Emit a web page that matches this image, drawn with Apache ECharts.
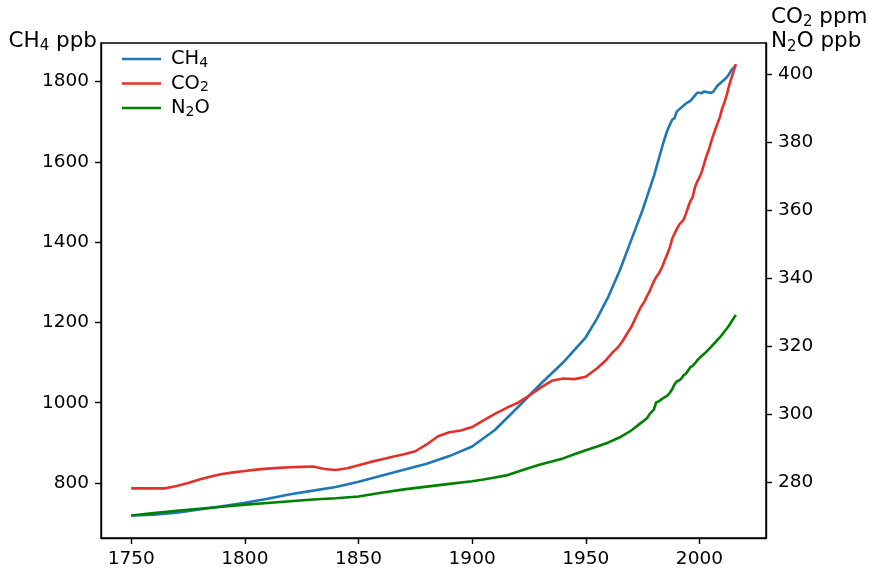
<!DOCTYPE html>
<html>
<head>
<meta charset="utf-8">
<script src="https://cdn.jsdelivr.net/npm/echarts@6/dist/echarts.min.js"></script>
<style>
html,body{margin:0;padding:0;background:#fff;}
#c{width:875px;height:573px;}
</style>
</head>
<body>
<div id="c"></div>
<script>
// ---- data ----
var ch4Years = [1750,1760,1770,1780,1790,1800,1810,1820,1830,1840,1850,1860,1870,1880,1890,1900,1910,1920,1930,1940,1950,1955,1960,1965,1970,1975,1980,1984,1986,1988,1989,1990,1992,1994,1996,1998,1999,2000,2001,2002,2003,2004,2005,2006,2007,2008,2009,2010,2011,2012,2013,2014,2015,2016];
var ch4Values = [719,721,726,734,742,751,761,772,781,790,803,818,833,848,867,891,932,988,1046,1100,1163,1210,1265,1330,1405,1480,1565,1645,1680,1705,1708,1725,1735,1745,1752,1765,1772,1772,1771,1775,1774,1773,1772,1774,1782,1790,1795,1800,1805,1810,1818,1828,1834,1840];

var co2Years = [1750,1755,1760,1765,1770,1775,1780,1785,1790,1795,1800,1805,1810,1815,1820,1825,1830,1835,1840,1845,1850,1855,1860,1865,1870,1875,1880,1885,1890,1895,1900,1905,1910,1915,1920,1925,1930,1935,1940,1945,1950,1955,1959,1960,1962,1964,1966,1968,1970,1972,1974,1976,1977,1978,1979,1980,1981,1982,1983,1984,1985,1986,1987,1988,1989,1990,1991,1992,1993,1994,1995,1996,1997,1998,1999,2000,2001,2002,2003,2004,2005,2006,2007,2008,2009,2010,2011,2012,2013,2014,2015,2016];
var co2Values = [278.3,278.3,278.3,278.3,279.0,279.9,280.9,281.8,282.5,283.0,283.4,283.8,284.1,284.3,284.5,284.6,284.7,284.0,283.7,284.2,285.1,286.0,286.8,287.6,288.3,289.2,291.2,293.6,294.8,295.3,296.3,298.3,300.2,301.9,303.4,305.5,307.8,309.9,310.6,310.4,311.1,313.6,316.0,316.9,318.4,319.6,321.4,323.6,325.7,328.5,331.3,333.4,334.9,336.1,337.7,339.2,340.4,341.3,342.5,344.0,345.8,347.4,349.2,351.6,353.1,354.4,355.7,356.5,357.2,358.9,360.9,362.7,363.8,366.7,368.4,369.7,371.3,373.5,375.8,377.5,379.8,381.9,383.8,385.6,387.4,389.9,391.7,393.9,396.5,398.7,400.8,403.0];

var n2oYears = [1750,1760,1770,1780,1790,1800,1810,1820,1830,1840,1850,1860,1870,1880,1890,1900,1905,1910,1915,1920,1925,1930,1935,1940,1945,1950,1955,1960,1965,1970,1975,1977,1978,1979,1980,1981,1982,1983,1984,1985,1986,1987,1988,1989,1990,1991,1992,1993,1994,1995,1996,1997,1998,1999,2000,2001,2002,2003,2004,2005,2006,2007,2008,2009,2010,2011,2012,2013,2014,2015,2016];
var n2oValues = [270.3,271.0,271.7,272.3,272.9,273.5,274.0,274.5,275.0,275.4,275.9,277.0,278.0,278.8,279.6,280.4,280.9,281.5,282.1,283.2,284.3,285.3,286.2,287.1,288.3,289.5,290.6,291.8,293.3,295.3,297.9,299.0,300.0,300.8,301.5,303.6,303.8,304.3,304.8,305.2,305.6,306.4,307.4,308.8,309.7,310.0,310.5,311.5,312.0,312.9,313.9,314.3,315.0,315.9,316.6,317.2,317.8,318.4,319.1,319.8,320.5,321.2,322.0,322.7,323.5,324.4,325.2,326.1,327.2,328.2,329.3];

var xTicks = [1750,1800,1850,1900,1950,2000];
var leftTicks = [800,1000,1200,1400,1600,1800];
var rightTicks = [280,300,320,340,360,380,400];
var seriesNames = ['CH4','CO2','N2O'];
var legendLabels = {'CH4':'{m|CH}{s|4}','CO2':'{m|CO}{s|2}','N2O':'{m|N}{s|2}{m|O}'};

function pairs(xs, ys){ return xs.map(function(x,i){ return [x, ys[i]]; }); }

var FONT = 'DejaVu Sans';
var FS = 18.5;
var TXT = '#000';
var legRich = {
  m: {fontSize: 19.5, fontFamily: FONT, color: TXT, lineHeight: 22},
  s: {fontSize: 14, fontFamily: FONT, color: TXT, lineHeight: 12, verticalAlign: 'bottom'}
};
var titleRich = {
  m: {fontSize: 21.5, fontFamily: FONT, fill: TXT, color: TXT, lineHeight: 26},
  s: {fontSize: 15, fontFamily: FONT, fill: TXT, color: TXT, lineHeight: 14, verticalAlign: 'bottom'}
};

var chart = echarts.init(document.getElementById('c'), null, {renderer: 'canvas'});

function axisCommon(ticks){
  return {
    axisLine: {show: true, lineStyle: {color: '#000', width: 1.4}},
    axisTick: {show: true, inside: false, length: 6, lineStyle: {color: '#000', width: 1.4}, customValues: ticks},
    axisLabel: {show: true, margin: 12, color: TXT, fontFamily: FONT, fontSize: FS, customValues: ticks,
                formatter: function(v){ return String(v); }},
    splitLine: {show: false}
  };
}

var xa = axisCommon(xTicks);
xa.type = 'value'; xa.min = 1736.7; xa.max = 2029.3; xa.position = 'bottom';
var yl = axisCommon(leftTicks);
yl.type = 'value'; yl.min = 663; yl.max = 1896; yl.position = 'left';
var yr = axisCommon(rightTicks);
yr.type = 'value'; yr.min = 263.7; yr.max = 409.2; yr.position = 'right';

chart.setOption({
  animation: false,
  backgroundColor: '#fff',
  grid: {left: 101, right: 109, top: 43, bottom: 35, show: true, borderColor: '#000', borderWidth: 1.4, backgroundColor: 'transparent'},
  xAxis: xa,
  yAxis: [yl, yr],
  legend: {
    orient: 'vertical', left: 122, top: 49, padding: 0,
    icon: 'rect', itemWidth: 39, itemHeight: 2.6, itemGap: 3.5,
    data: seriesNames,
    formatter: function(n){ return legendLabels[n]; },
    textStyle: {fontFamily: FONT, fontSize: 19.5, color: TXT, padding: [0,0,0,5], rich: legRich}
  },
  graphic: [
    {type: 'text', right: 875 - 97, top: 30, style: {text: '{m|CH}{s|4}{m| ppb}', rich: titleRich, fill: TXT, fontSize: 21.5, fontFamily: FONT}},
    {type: 'text', left: 771, top: 6, style: {text: '{m|CO}{s|2}{m| ppm}', rich: titleRich, fill: TXT, fontSize: 21.5, fontFamily: FONT}},
    {type: 'text', left: 771, top: 30.5, style: {text: '{m|N}{s|2}{m|O ppb}', rich: titleRich, fill: TXT, fontSize: 21.5, fontFamily: FONT}}
  ],
  series: [
    {name: 'CH4', type: 'line', yAxisIndex: 0, data: pairs(ch4Years, ch4Values), showSymbol: false, symbol: 'none', lineStyle: {width: 2.6, color: '#1f77b4'}, itemStyle: {color: '#1f77b4'}, z: 3},
    {name: 'CO2', type: 'line', yAxisIndex: 1, data: pairs(co2Years, co2Values), showSymbol: false, symbol: 'none', lineStyle: {width: 2.6, color: '#e5302a'}, itemStyle: {color: '#e5302a'}, z: 4},
    {name: 'N2O', type: 'line', yAxisIndex: 1, data: pairs(n2oYears, n2oValues), showSymbol: false, symbol: 'none', lineStyle: {width: 2.6, color: '#008000'}, itemStyle: {color: '#008000'}, z: 5}
  ]
});
</script>
</body>
</html>
